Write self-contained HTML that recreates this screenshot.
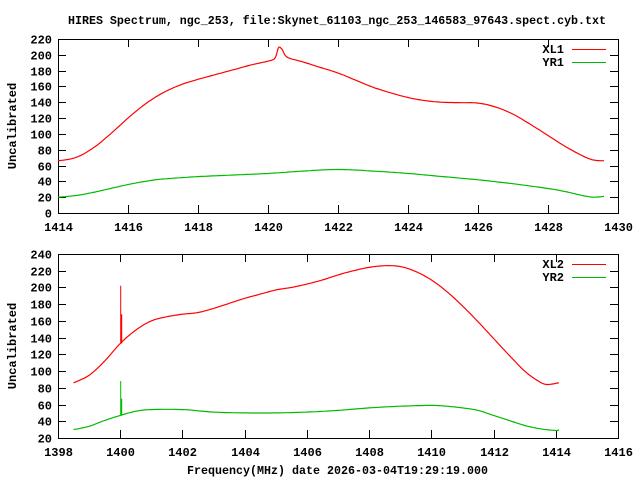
<!DOCTYPE html>
<html><head><meta charset="utf-8"><style>
body{margin:0;background:#fff}
svg text{font-family:"Liberation Mono",monospace;font-weight:bold;font-size:12px;fill:#000}
</style></head><body>
<svg id="s" width="640" height="480" xmlns="http://www.w3.org/2000/svg">
<text x="68" y="24" textLength="538" lengthAdjust="spacingAndGlyphs">HIRES Spectrum, ngc_253, file:Skynet_61103_ngc_253_146583_97643.spect.cyb.txt</text>
<text x="187" y="474" textLength="301" lengthAdjust="spacingAndGlyphs">Frequency(MHz) date 2026-03-04T19:29:19.000</text>
<text transform="translate(16,126) rotate(-90)" text-anchor="middle">Uncalibrated</text>
<text transform="translate(16,346) rotate(-90)" text-anchor="middle">Uncalibrated</text>
<g id="g"></g>
</svg>
<script>
var g=document.getElementById('g'),h='';
function panel(x0,x1,xmin,xmax,xs,y0,y1,ymin,ymax,ys,red,green,spikes,l1,l2){
 var X=function(v){return x0+(v-xmin)/(xmax-xmin)*(x1-x0)},Y=function(v){return y1-(v-ymin)/(ymax-ymin)*(y1-y0)};
 h+='<rect x="'+x0+'.5" y="'+y0+'.5" width="'+(x1-x0)+'" height="'+(y1-y0)+'" fill="none" stroke="#000"/>';
 for(var v=ymin;v<=ymax;v+=ys){var y=Math.round(Y(v))+.5;h+='<path d="M'+x0+' '+y+'h8M'+x1+' '+y+'h-8" stroke="#000"/>';h+='<text x="'+(x0-6)+'" y="'+(y+4)+'" text-anchor="end">'+v+'</text>';}
 for(var v=xmin;v<=xmax;v+=xs){var x=Math.round(X(v))+.5;h+='<path d="M'+x+' '+y1+'v-8M'+x+' '+y0+'v8" stroke="#000"/>';h+='<text x="'+x+'" y="'+(y1+18)+'" text-anchor="middle">'+v+'</text>';}
 function line(pts,c){var d='';
  for(var i=0;i<pts.length-1;i++){var p0=pts[Math.max(i-1,0)],p1=pts[i],p2=pts[i+1],p3=pts[Math.min(i+2,pts.length-1)];
   for(var t=0;t<1;t+=0.1){var t2=t*t,t3=t2*t;
    var f=function(a,b,c2,e){return 0.5*(2*b+(-a+c2)*t+(2*a-5*b+4*c2-e)*t2+(-a+3*b-3*c2+e)*t3)};
    var xv=f(p0[0],p1[0],p2[0],p3[0]),yv=f(p0[1],p1[1],p2[1],p3[1]);
    d+=(d?'L':'M')+X(xv).toFixed(1)+' '+Y(yv).toFixed(1);}}
  var l=pts[pts.length-1];d+='L'+X(l[0]).toFixed(1)+' '+Y(l[1]).toFixed(1);
  h+='<path d="'+d+'" fill="none" stroke="'+c+'" stroke-width="1.2"/>';}
 line(red,'#f00');line(green,'#0b0');
 spikes.forEach(function(s){h+='<path d="M'+(X(s[0])+0.5).toFixed(1)+' '+Y(s[1]).toFixed(1)+'V'+Y(s[2]).toFixed(1)+'M'+(X(s[0])+1.5).toFixed(1)+' '+Y(s[1]).toFixed(1)+'V'+Y(s[3]).toFixed(1)+'" stroke="'+s[4]+'" stroke-width="1"/>';});
 h+='<text x="564" y="'+(y0+14)+'" text-anchor="end">'+l1+'</text><path d="M572 '+(y0+10.5)+'h34" stroke="#f00"/>';
 h+='<text x="564" y="'+(y0+27)+'" text-anchor="end">'+l2+'</text><path d="M572 '+(y0+23.5)+'h34" stroke="#0b0"/>';
}
panel(58,618,1414,1430,2,39,213,0,220,20,
 [[1414,66],[1414.5,70],[1415,82],[1415.5,100],[1416,120],[1416.5,138],[1417,152],[1417.5,162],[1418,169],[1418.5,175],[1419,181],[1419.5,187],[1420,192],[1420.2,196],[1420.3,209],[1420.4,207],[1420.55,197],[1421,191],[1421.5,184],[1422,177],[1422.5,168],[1423,159],[1423.5,152],[1424,146],[1424.5,142],[1425,140],[1425.5,139.5],[1426,139],[1426.5,134],[1427,125],[1427.5,112],[1428,98],[1428.5,84],[1429,72],[1429.3,67],[1429.6,66]],
 [[1414,20],[1414.5,22],[1415,26],[1415.5,31],[1416,36],[1416.5,40],[1417,43],[1418,46],[1419,48],[1420,50],[1421,53],[1422,55],[1423,53],[1424,50],[1425,46],[1426,42],[1427,37],[1428,31],[1428.5,27],[1429,22],[1429.3,20],[1429.6,21]],[],'XL1','YR1');
panel(58,618,1398,1416,2,254,438,20,240,20,
 [[1398.5,86],[1399,95],[1399.5,112],[1400,133],[1400.5,149],[1401,160],[1401.5,165],[1402,168],[1402.5,170],[1403,175],[1403.5,181],[1404,187],[1404.5,192],[1405,197],[1405.5,200],[1406,204],[1406.5,209],[1407,215],[1407.5,220],[1408,224],[1408.5,226],[1409,225],[1409.5,219],[1410,209],[1410.5,195],[1411,178],[1411.5,159],[1412,139],[1412.5,119],[1413,100],[1413.4,89],[1413.7,84],[1414.1,86]],
 [[1398.5,30],[1399,34],[1399.5,41],[1400,47],[1400.5,52],[1401,54],[1402,54],[1403,51],[1404,50],[1405,50],[1406,51],[1407,53],[1408,56],[1409,58],[1410,59],[1410.5,58],[1411,56],[1411.5,53],[1412,47],[1412.5,41],[1413,35],[1413.5,31],[1414,29],[1414.1,30]],
 [[1400,133,202,168,'#f00'],[1400,47,88,67,'#0b0']],'XL2','YR2');
g.innerHTML=h;
</script>
</body></html>
